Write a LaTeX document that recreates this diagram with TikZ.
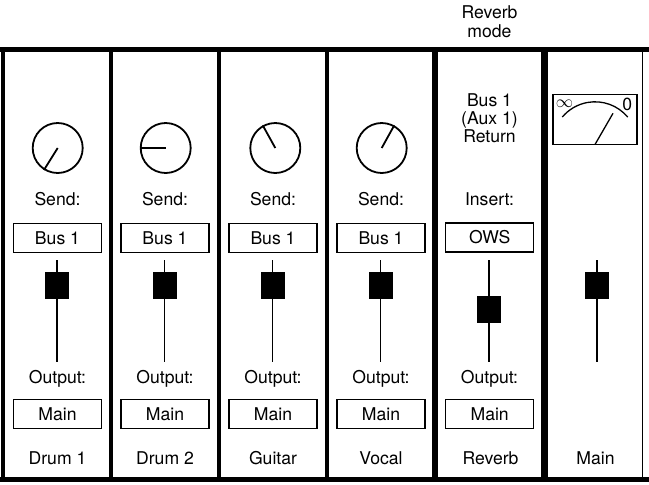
\documentclass[tikz,border=0pt]{standalone}
\usepackage{fontspec}
\setmainfont{TeX Gyre Heros}
\begin{document}
\begin{tikzpicture}[x=1pt,y=-1pt,
  lbl/.style={font=\fontsize{17.6}{18}\selectfont, inner sep=0pt, anchor=base, align=center},
  selbox/.style={draw, line width=1.3pt, minimum width=88pt, minimum height=29pt, inner sep=0pt, font=\fontsize{17.6}{18}\selectfont},
  frameline/.style={line width=5pt},
  sepline/.style={line width=4pt},
  thicksep/.style={line width=6.5pt},
  knobring/.style={line width=1.8pt},
  track/.style={line width=1.8pt},
  capbox/.style={fill=black, minimum width=24pt, minimum height=27.5pt, inner sep=0pt}]
\useasboundingbox (0,0) rectangle (649,485);
% frame
\draw[frameline] (0,49.5) -- (649,49.5);
\draw[frameline] (0,479.5) -- (649,479.5);
\draw[line width=4.5pt] (3,47) -- (3,482);
\foreach \x in {111,219,327} \draw[sepline] (\x,49.5) -- (\x,479.5);
\foreach \x in {435,544.5} \draw[thicksep] (\x,49.5) -- (\x,479.5);
\draw[line width=1.8pt] (642.5,49.5) -- (642.5,479.5);
% top label (base anchor = last line's baseline)
\node[lbl] (revmode) at (489.5,37.3) {Reverb\\[1.3pt]mode};
% input channels
\foreach \c/\k/\a/\n/\nm in {57.5/57.7/238/1/Drum 1,165/165.7/180/2/Drum 2,273/275.3/119/3/Guitar,381/381.7/61/4/Vocal}{
  \node[circle, draw, knobring, minimum size=50pt, inner sep=0pt] (knob\n) at (\k,148) {};
  \draw[knobring] (knob\n.center) -- (knob\n.\a);
  \node[lbl] (send\n) at (\c,205) {Send:};
  \node[selbox] (bus\n) at (\c,238) {Bus 1};
  \coordinate (ttop\n) at (\c-0.5,260);
  \coordinate (tbot\n) at (\c-0.5,362);
  \draw[track] (ttop\n) -- (tbot\n);
  \node[capbox] (cap\n) at (\c-0.5,285.5) {};
  \node[lbl] (out\n) at (\c,383) {Output:};
  \node[selbox] (main\n) at (\c,414) {Main};
  \node[lbl] (name\n) at (\c,464) {\nm};
}
% reverb return
\node[lbl] (ret) at (489.5,142) {Bus 1\\(Aux 1)\\Return};
\node[lbl] (ins) at (489.5,205) {Insert:};
\node[selbox] (ows) at (489.7,237.5) {OWS};
\coordinate (ttop5) at (489,260);
\coordinate (tbot5) at (489,362);
\draw[track] (ttop5) -- (tbot5);
\node[capbox] (cap5) at (489,309.7) {};
\node[lbl] (out5) at (489.5,383) {Output:};
\node[selbox] (main5) at (489.7,414) {Main};
\node[lbl] (name5) at (490.5,464) {Reverb};
% main strip
\node[draw, line width=1.3pt, minimum width=84pt, minimum height=50pt, inner sep=0pt] (meter) at (595,119.2) {};
\coordinate (piv) at (595,144.5);
\draw[line width=1.3pt] (piv) ++(-40:42.7) arc[start angle=-40, end angle=-140, radius=42.7];
\draw[line width=1.3pt] (piv) -- ++(-60:36);
\node[font=\fontsize{16}{16}\selectfont, inner sep=0pt] (inf) at (564.5,104) {$\infty$};
\node[font=\fontsize{17.6}{18}\selectfont, inner sep=0pt] (zero) at (627.3,104.5) {0};
\coordinate (ttop6) at (597.3,260);
\coordinate (tbot6) at (597.3,362);
\draw[track] (ttop6) -- (tbot6);
\node[capbox] (cap6) at (597.3,285.5) {};
\node[lbl] (name6) at (595.5,464) {Main};
\end{tikzpicture}
\end{document}
